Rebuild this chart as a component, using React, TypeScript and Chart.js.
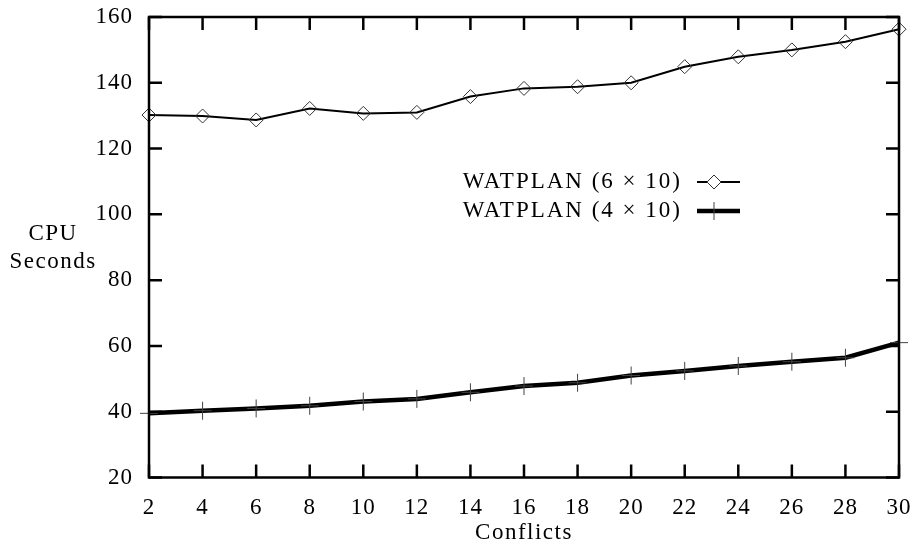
import React, { useEffect, useRef } from "react";
import { Chart, registerables } from "chart.js";

Chart.register(...registerables);

const conflicts = [2, 4, 6, 8, 10, 12, 14, 16, 18, 20, 22, 24, 26, 28, 30];
const watplan6x10 = [130.2, 129.9, 128.7, 132.2, 130.7, 131.0, 135.8, 138.3, 138.8, 140.0, 144.9, 147.9, 150.0, 152.5, 156.3];
const watplan4x10 = [39.5, 40.3, 41.0, 41.8, 43.1, 43.9, 45.9, 47.8, 48.8, 51.0, 52.4, 53.9, 55.2, 56.4, 61.0];
const seriesLabels = ["WATPLAN (6 \u00d7 10)", "WATPLAN (4 \u00d7 10)"];
const xTicks = [2, 4, 6, 8, 10, 12, 14, 16, 18, 20, 22, 24, 26, 28, 30];
const yTicks = [20, 40, 60, 80, 100, 120, 140, 160];
const xTitle = "Conflicts";
const yTitle = ["CPU", "Seconds"];

const FONT = "'Liberation Serif', 'Times New Roman', serif";
const FSIZE = 23;

const framePlugin = {
  id: "frame",
  beforeDraw(chart: any) {
    (chart.ctx as any).letterSpacing = "1px";
  },
  afterDraw(chart: any) {
    const ctx = chart.ctx;
    const { left, right, top, bottom } = chart.chartArea;
    const xs = chart.scales.x;
    const ys = chart.scales.y;
    ctx.save();
    ctx.strokeStyle = "#000";
    ctx.lineWidth = 2.5;
    ctx.strokeRect(left, top, right - left, bottom - top);
    const tl = 13;
    ctx.beginPath();
    xTicks.forEach((v) => {
      const px = xs.getPixelForValue(v);
      ctx.moveTo(px, bottom);
      ctx.lineTo(px, bottom - tl);
      ctx.moveTo(px, top);
      ctx.lineTo(px, top + tl);
    });
    yTicks.forEach((v) => {
      const py = ys.getPixelForValue(v);
      ctx.moveTo(left, py);
      ctx.lineTo(left + tl, py);
      ctx.moveTo(right, py);
      ctx.lineTo(right - tl, py);
    });
    ctx.stroke();

    // axis titles
    (ctx as any).letterSpacing = "1.5px";
    ctx.fillStyle = "#000";
    ctx.font = `${FSIZE}px ${FONT}`;
    ctx.textAlign = "center";
    ctx.textBaseline = "middle";
    ctx.fillText(xTitle, (left + right) / 2, 533);
    ctx.fillText(yTitle[0], 53, 234);
    ctx.fillText(yTitle[1], 53, 262);

    // legend
    (ctx as any).letterSpacing = "2px";
    const ds = chart.data.datasets;
    const rows = [182, 211];
    rows.forEach((y, i) => {
      const d = ds[i];
      ctx.textAlign = "right";
      ctx.textBaseline = "middle";
      ctx.fillStyle = "#000";
      ctx.fillText(d.label, 682, y);
      ctx.strokeStyle = "#000";
      ctx.lineWidth = d.borderWidth;
      ctx.beginPath();
      ctx.moveTo(697, y);
      ctx.lineTo(740, y);
      ctx.stroke();
      ctx.strokeStyle = d.pointBorderColor;
      ctx.lineWidth = d.pointBorderWidth;
      ctx.beginPath();
      const r = d.pointRadius;
      const cx = 714;
      if (d.pointStyle === "rectRot") {
        ctx.fillStyle = "#fff";
        ctx.moveTo(cx - r, y);
        ctx.lineTo(cx, y - r);
        ctx.lineTo(cx + r, y);
        ctx.lineTo(cx, y + r);
        ctx.closePath();
        ctx.fill();
        ctx.stroke();
      } else {
        ctx.moveTo(cx, y - r);
        ctx.lineTo(cx, y + r);
        ctx.stroke();
      }
    });
    ctx.restore();
  },
};

export default function App() {
  const ref = useRef<HTMLCanvasElement | null>(null);
  useEffect(() => {
    document.body.style.margin = "0";
    const canvas = ref.current!;
    const chart = new Chart(canvas, {
      type: "line",
      data: {
        datasets: [
          {
            label: seriesLabels[0],
            data: conflicts.map((c, i) => ({ x: c, y: watplan6x10[i] })),
            borderColor: "#000",
            borderWidth: 2,
            pointStyle: "rectRot",
            pointRadius: 7,
            pointBorderColor: "#333",
            pointBorderWidth: 1,
            pointBackgroundColor: "rgba(0,0,0,0)",
            tension: 0,
            clip: false,
          },
          {
            label: seriesLabels[1],
            data: conflicts.map((c, i) => ({ x: c, y: watplan4x10[i] })),
            borderColor: "#000",
            borderWidth: 4.5,
            pointStyle: "cross",
            pointRadius: 9,
            pointBorderColor: "#444",
            pointBorderWidth: 1,
            tension: 0,
            clip: false,
          },
        ],
      },
      options: {
        animation: false,
        responsive: false,
        maintainAspectRatio: false,
        layout: { padding: { top: 17, right: 13, left: 0, bottom: 0 } },
        plugins: { legend: { display: false }, tooltip: { enabled: false }, title: { display: false } },
        scales: {
          x: {
            type: "linear",
            min: 2,
            max: 30,
            afterBuildTicks: (s: any) => {
              s.ticks = xTicks.map((v) => ({ value: v }));
            },
            afterFit: (s: any) => {
              s.height = 69.5;
              s.paddingLeft = 0;
              s.paddingRight = 0;
            },
            grid: { display: false, drawTicks: false },
            border: { display: false },
            ticks: { color: "#000", font: { family: FONT, size: FSIZE }, padding: 17, maxRotation: 0, autoSkip: false },
          },
          y: {
            type: "linear",
            min: 20,
            max: 160,
            afterBuildTicks: (s: any) => {
              s.ticks = yTicks.map((v) => ({ value: v }));
            },
            afterFit: (s: any) => {
              s.width = 149;
              s.paddingTop = 0;
              s.paddingBottom = 0;
            },
            grid: { display: false, drawTicks: false },
            border: { display: false },
            ticks: { color: "#000", font: { family: FONT, size: FSIZE }, padding: 16 },
          },
        },
      },
      plugins: [framePlugin],
    });
    return () => chart.destroy();
  }, []);
  return (
    <div style={{ position: "absolute", left: 0, top: 0, width: 912, height: 547, background: "#fff" }}>
      <canvas ref={ref} width={912} height={547} style={{ width: 912, height: 547 }} />
    </div>
  );
}
